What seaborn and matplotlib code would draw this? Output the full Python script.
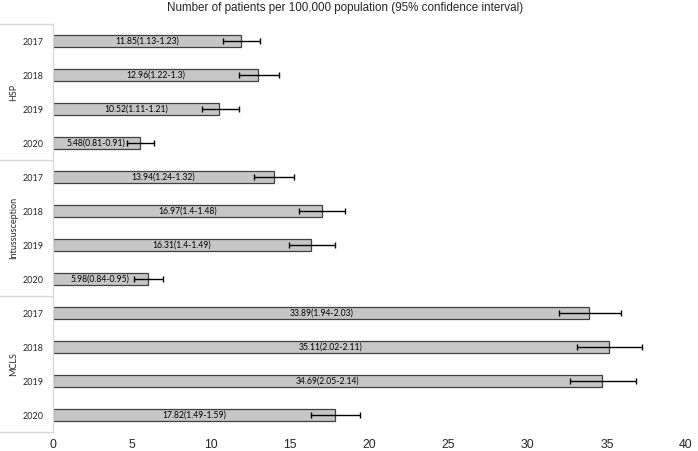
import matplotlib
matplotlib.use("Agg")
import matplotlib.pyplot as plt
import matplotlib.transforms as mtransforms
import seaborn as sns
import pandas as pd

groups = ["HSP", "Intussusception", "MCLS"]
years = ["2017", "2018", "2019", "2020"]
hsp_values = [11.85, 12.96, 10.52, 5.48]
hsp_lo = [1.13, 1.22, 1.11, 0.81]
hsp_hi = [1.23, 1.30, 1.21, 0.91]
int_values = [13.94, 16.97, 16.31, 5.98]
int_lo = [1.24, 1.40, 1.40, 0.84]
int_hi = [1.32, 1.48, 1.49, 0.95]
mcls_values = [33.89, 35.11, 34.69, 17.82]
mcls_lo = [1.94, 2.02, 2.05, 1.49]
mcls_hi = [2.03, 2.11, 2.14, 1.59]
hsp_text = ["11.85(1.13-1.23)", "12.96(1.22-1.3)", "10.52(1.11-1.21)", "5.48(0.81-0.91)"]
int_text = ["13.94(1.24-1.32)", "16.97(1.4-1.48)", "16.31(1.4-1.49)", "5.98(0.84-0.95)"]
mcls_text = ["33.89(1.94-2.03)", "35.11(2.02-2.11)", "34.69(2.05-2.14)", "17.82(1.49-1.59)"]
x_ticks = [0, 5, 10, 15, 20, 25, 30, 35, 40]
title = "Number of patients per 100,000 population (95% confidence interval)"

values = hsp_values + int_values + mcls_values
lows = hsp_lo + int_lo + mcls_lo
highs = hsp_hi + int_hi + mcls_hi
texts = hsp_text + int_text + mcls_text
grp_col = [g for g in groups for _ in years]
yr_col = years * len(groups)
df = pd.DataFrame({"group": grp_col, "year": yr_col, "value": values})
df["key"] = df["group"] + " " + df["year"]

sns.set_theme(style="white")
plt.rcParams["font.family"] = ["Liberation Sans", "DejaVu Sans"]

fig = plt.figure(figsize=(6.98, 4.51), dpi=100)
ax = fig.add_axes([53 / 698, 19 / 451, 633 / 698, 408 / 451])

sns.barplot(data=df, y="key", x="value", orient="h", color="#c6c6c6",
            saturation=1, width=0.36, edgecolor="#404040", linewidth=0.9,
            errorbar=None, ax=ax)

ypos = list(range(len(values)))
ax.errorbar(values, ypos, xerr=[lows, highs], fmt="none", ecolor="black",
            elinewidth=1.0, capsize=2.4, capthick=1.0, zorder=5)

for v, y, t in zip(values, ypos, texts):
    ax.text(v / 2, y, t, ha="center", va="center", fontsize=6.2,
            family=["Lato", "DejaVu Sans"], color="black", zorder=6)

ax.set_xlim(0, 40)
ax.set_ylim(len(values) - 0.5, -0.5)
ax.set_xticks(x_ticks)
ax.set_xticklabels([str(t) for t in x_ticks], fontsize=8.8)
ax.set_yticks(ypos)
ax.set_yticklabels(yr_col, fontsize=6.5, family=["Lato", "DejaVu Sans"])
ax.tick_params(axis="y", length=0, pad=7)
ax.tick_params(axis="x", length=0, pad=5)
ax.set_xlabel("")
ax.set_ylabel("")

for s in ["top", "right", "bottom"]:
    ax.spines[s].set_visible(False)
ax.spines["left"].set_color("#d9d9d9")
ax.spines["left"].set_linewidth(1.0)

trans = mtransforms.blended_transform_factory(ax.transAxes, ax.transData)
xl = -53 / 633
for b in [-0.5, 3.5, 7.5, 11.5]:
    ax.plot([xl, 0], [b, b], color="#d9d9d9", lw=1.0, transform=trans, clip_on=False)
for i, g in enumerate(groups):
    ax.text(-39 / 633, i * 4 + 1.5, g, rotation=90, ha="center", va="center",
            fontsize=6.5, family=["Lato", "DejaVu Sans"], transform=trans)

fig.text(0.494, 1 - 8 / 451, title, ha="center", va="center", fontsize=8.4)

fig.savefig("out.png", dpi=100)
